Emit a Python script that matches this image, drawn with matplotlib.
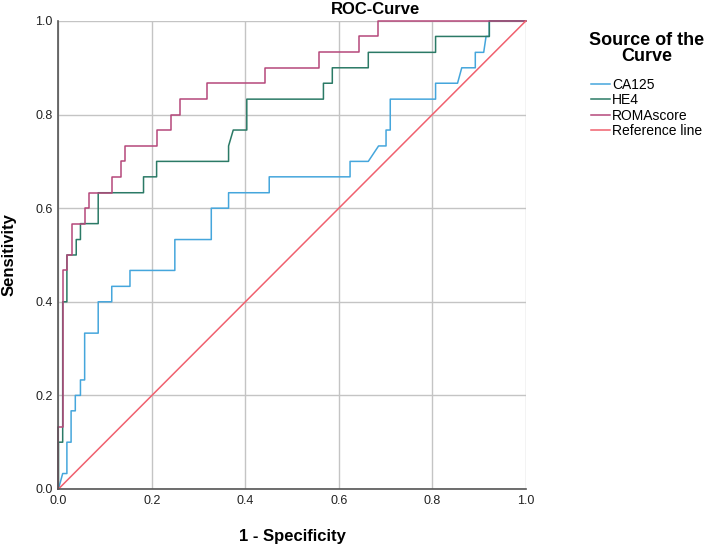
import numpy as np
import matplotlib
matplotlib.use("Agg")
import matplotlib.pyplot as plt

plt.rcParams['font.family'] = ['Liberation Sans', 'DejaVu Sans']

# ROC points (1 - specificity, sensitivity)
ca125_fpr = [0, 0.009, 0.018, 0.018, 0.027, 0.027, 0.036, 0.036, 0.047, 0.047,
             0.056, 0.056, 0.085, 0.085, 0.114, 0.114, 0.153, 0.153, 0.249, 0.249,
             0.327, 0.327, 0.364, 0.364, 0.451, 0.451, 0.624, 0.624, 0.663, 0.685,
             0.701, 0.701, 0.710, 0.710, 0.807, 0.807, 0.854, 0.863, 0.892, 0.892,
             0.910, 0.915, 0.922, 0.922, 1.0]
ca125_tpr = [0, 0.033, 0.033, 0.1, 0.1, 0.167, 0.167, 0.2, 0.2, 0.233,
             0.233, 0.333, 0.333, 0.4, 0.4, 0.433, 0.433, 0.467, 0.467, 0.533,
             0.533, 0.6, 0.6, 0.633, 0.633, 0.667, 0.667, 0.7, 0.7, 0.733,
             0.733, 0.767, 0.767, 0.833, 0.833, 0.867, 0.867, 0.9, 0.9, 0.933,
             0.933, 0.967, 0.967, 1.0, 1.0]

he4_fpr = [0, 0, 0.009, 0.009, 0.018, 0.018, 0.038, 0.038, 0.047, 0.047,
           0.085, 0.085, 0.182, 0.182, 0.210, 0.210, 0.364, 0.364, 0.374, 0.403,
           0.403, 0.567, 0.567, 0.586, 0.586, 0.663, 0.663, 0.807, 0.807, 0.922,
           0.922, 1.0]
he4_tpr = [0, 0.1, 0.1, 0.4, 0.4, 0.5, 0.5, 0.533, 0.533, 0.567,
           0.567, 0.633, 0.633, 0.667, 0.667, 0.7, 0.7, 0.733, 0.767, 0.767,
           0.833, 0.833, 0.867, 0.867, 0.9, 0.9, 0.933, 0.933, 0.967, 0.967,
           1.0, 1.0]

roma_fpr = [0, 0, 0.009, 0.009, 0.018, 0.018, 0.029, 0.029, 0.057, 0.057,
            0.066, 0.066, 0.114, 0.114, 0.133, 0.133, 0.143, 0.143, 0.210, 0.210,
            0.240, 0.240, 0.260, 0.260, 0.317, 0.317, 0.442, 0.442, 0.557, 0.557,
            0.644, 0.644, 0.683, 0.683, 1.0]
roma_tpr = [0, 0.133, 0.133, 0.467, 0.467, 0.5, 0.5, 0.567, 0.567, 0.6,
            0.6, 0.633, 0.633, 0.667, 0.667, 0.7, 0.7, 0.733, 0.733, 0.767,
            0.767, 0.8, 0.8, 0.833, 0.833, 0.867, 0.867, 0.9, 0.9, 0.933,
            0.933, 0.967, 0.967, 1.0, 1.0]

ref_x = [0, 1]
ref_y = [0, 1]

ticks = [0.0, 0.2, 0.4, 0.6, 0.8, 1.0]

fig = plt.figure(figsize=(7.08, 5.48), dpi=100)
ax = fig.add_axes([0.0826, 0.1077, 0.66, 0.854])

lw = 1.1
ax.plot(ca125_fpr, ca125_tpr, color='#45a6dc', lw=lw, label='CA125', clip_on=False)
ax.plot(he4_fpr, he4_tpr, color='#2b7a66', lw=lw, label='HE4', clip_on=False)
ax.plot(roma_fpr, roma_tpr, color='#b5487a', lw=lw, label='ROMAscore', clip_on=False)
ax.plot(ref_x, ref_y, color='#f0606e', lw=lw, label='Reference line', clip_on=False)

ax.set_xlim(0, 1)
ax.set_ylim(0, 1)
ax.set_xticks(ticks)
ax.set_yticks(ticks)
ax.set_xticklabels([f"{t:.1f}" for t in ticks])
ax.set_yticklabels([f"{t:.1f}" for t in ticks])
ax.tick_params(length=0, labelsize=9, colors='#222222', pad=4)
ax.grid(True, color='#c4c4c4', lw=1)
ax.set_axisbelow(True)
for s in ['top', 'right']:
    ax.spines[s].set_visible(False)
for s in ['left', 'bottom']:
    ax.spines[s].set_color('#555555')
    ax.spines[s].set_linewidth(1.2)

ax.set_xlabel("1 - Specificity", fontsize=12, fontweight='bold', labelpad=16)
ax.set_ylabel("Sensitivity", fontsize=12, fontweight='bold', labelpad=14)
fig.text(375 / 708, 1 - 10 / 548, "ROC-Curve", fontsize=12, fontweight='bold',
         ha='center', va='center')

leg = ax.legend(loc='upper left', bbox_to_anchor=(589 / 708, 1 - 32 / 548),
                bbox_transform=fig.transFigure, frameon=False,
                title="Source of the\nCurve", fontsize=10,
                title_fontproperties={'weight': 'bold', 'size': 13},
                handlelength=1.4, handletextpad=0.15, labelspacing=0.1,
                borderpad=0, borderaxespad=0, alignment='center')
leg.get_title().set_multialignment('center')
leg.get_title().set_linespacing(0.95)
leg._legend_box.sep = 9

fig.savefig('out.png', dpi=100)
